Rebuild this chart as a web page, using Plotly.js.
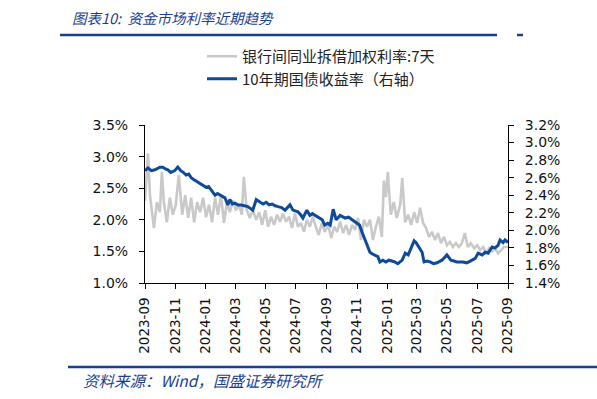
<!DOCTYPE html>
<html>
<head>
<meta charset="utf-8">
<script src="https://cdn.plot.ly/plotly-3.0.1.min.js"></script>
<style>html,body{margin:0;padding:0;background:#fff;}#chart{width:597px;height:399px;}</style>
</head>
<body>
<div id="chart"></div>
<script>
// 银行间同业拆借加权利率:7天 (left axis, %)
const interbankDates = [
"2023-09-01","2023-09-07","2023-09-11","2023-09-19","2023-09-25","2023-10-01","2023-10-05","2023-10-09","2023-10-15","2023-10-21",
"2023-10-27","2023-11-02","2023-11-08","2023-11-15","2023-11-21","2023-11-27","2023-12-03","2023-12-09","2023-12-15","2023-12-21",
"2023-12-27","2024-01-02","2024-01-08","2024-01-14","2024-01-20","2024-01-26","2024-02-01","2024-02-07","2024-02-13","2024-02-19",
"2024-02-25","2024-03-02","2024-03-08","2024-03-14","2024-03-18","2024-03-24","2024-03-30","2024-04-05","2024-04-12","2024-04-18",
"2024-04-24","2024-04-30","2024-05-06","2024-05-12","2024-05-18","2024-05-24","2024-05-30","2024-06-05","2024-06-11","2024-06-17",
"2024-06-23","2024-06-29","2024-07-05","2024-07-11","2024-07-17","2024-07-23","2024-07-29","2024-08-04","2024-08-10","2024-08-16",
"2024-08-22","2024-08-28","2024-09-04","2024-09-10","2024-09-16","2024-09-22","2024-09-28","2024-10-04","2024-10-10","2024-10-16",
"2024-10-22","2024-10-28","2024-11-03","2024-11-09","2024-11-15","2024-11-21","2024-11-27","2024-12-03","2024-12-09","2024-12-15",
"2024-12-21","2024-12-25","2024-12-29","2025-01-02","2025-01-05","2025-01-08","2025-01-14","2025-01-20","2025-01-27","2025-01-31",
"2025-02-06","2025-02-12","2025-02-18","2025-02-24","2025-03-02","2025-03-08","2025-03-14","2025-03-20","2025-03-26","2025-04-01",
"2025-04-07","2025-04-13","2025-04-19","2025-04-25","2025-05-01","2025-05-07","2025-05-13","2025-05-19","2025-05-25","2025-05-31",
"2025-06-06","2025-06-12","2025-06-18","2025-06-25","2025-07-01","2025-07-07","2025-07-13","2025-07-19","2025-07-25","2025-07-31",
"2025-08-06","2025-08-12","2025-08-18","2025-08-24","2025-09-01"];
const interbankRate = [
2.30,3.05,2.39,1.87,2.28,2.12,2.76,2.28,1.96,2.35,
2.08,2.24,2.71,2.08,2.39,2.03,2.35,1.96,2.28,2.12,
2.35,2.04,2.24,1.96,2.35,2.08,2.39,1.95,2.28,2.12,
2.31,2.15,2.24,2.08,2.68,2.15,2.03,2.15,2.00,2.12,
1.92,2.15,1.89,2.05,1.92,2.08,1.97,2.10,1.97,2.05,
1.87,2.10,1.89,1.95,1.81,2.00,1.89,2.05,1.89,1.76,
1.95,1.81,1.92,1.71,1.89,1.81,1.97,1.79,1.92,1.76,
1.92,1.84,2.03,1.68,2.00,1.89,2.00,1.68,1.89,2.05,
1.73,2.62,2.36,2.76,2.40,2.08,2.28,2.03,2.24,2.66,
1.96,2.08,1.92,2.12,1.95,2.19,1.95,1.87,1.73,1.81,
1.68,1.79,1.63,1.73,1.60,1.65,1.57,1.63,1.57,1.63,
1.79,1.57,1.63,1.55,1.60,1.52,1.57,1.47,1.55,1.50,
1.55,1.47,1.52,1.57,1.57];

// 10年期国债收益率 (right axis, %)
const bondDates = [
"2023-09-01","2023-09-07","2023-09-14","2023-09-21","2023-10-01","2023-10-07","2023-10-12","2023-10-17","2023-10-23","2023-10-31",
"2023-11-06","2023-11-12","2023-11-17","2023-11-23","2023-11-28","2023-12-03","2023-12-08","2023-12-13","2023-12-18","2023-12-23",
"2024-01-02","2024-01-07","2024-01-12","2024-01-20","2024-01-25","2024-01-30","2024-02-09","2024-02-15","2024-02-19","2024-02-24",
"2024-02-29","2024-03-06","2024-03-12","2024-03-19","2024-03-26","2024-04-05","2024-04-12","2024-04-20","2024-04-26","2024-05-02",
"2024-05-08","2024-05-14","2024-05-20","2024-05-26","2024-06-02","2024-06-09","2024-06-19","2024-06-25","2024-07-05","2024-07-10",
"2024-07-15","2024-07-23","2024-07-29","2024-08-03","2024-08-08","2024-08-13","2024-08-18","2024-08-23","2024-08-28","2024-09-03",
"2024-09-08","2024-09-14","2024-09-20","2024-09-28","2024-10-08","2024-10-15","2024-10-22","2024-11-01","2024-11-06","2024-11-11",
"2024-11-19","2024-11-27","2024-12-02","2024-12-07","2024-12-13","2024-12-17","2024-12-23","2024-12-29","2025-01-04","2025-01-10",
"2025-01-16","2025-01-22","2025-01-31","2025-02-06","2025-02-12","2025-02-18","2025-02-24","2025-02-28","2025-03-06","2025-03-12",
"2025-03-16","2025-03-22","2025-03-28","2025-04-04","2025-04-11","2025-04-16","2025-04-21","2025-05-01","2025-05-09","2025-05-15",
"2025-05-21","2025-06-02","2025-06-10","2025-06-17","2025-06-27","2025-07-03","2025-07-11","2025-07-17","2025-07-23","2025-07-31",
"2025-08-06","2025-08-12","2025-08-16","2025-08-22","2025-08-26","2025-09-01"];
const bondYield = [
2.68,2.71,2.68,2.69,2.72,2.72,2.70,2.69,2.66,2.68,
2.72,2.68,2.66,2.63,2.64,2.60,2.58,2.56,2.54,2.52,
2.49,2.50,2.46,2.40,2.42,2.40,2.37,2.29,2.35,2.30,
2.31,2.29,2.29,2.28,2.27,2.23,2.35,2.32,2.30,2.32,
2.29,2.30,2.28,2.27,2.26,2.23,2.29,2.23,2.21,2.18,
2.14,2.23,2.17,2.19,2.17,2.15,2.14,2.12,2.06,2.08,
2.06,2.24,2.12,2.17,2.14,2.15,2.12,2.08,2.06,1.98,
1.86,1.75,1.73,1.72,1.70,1.64,1.66,1.64,1.66,1.65,
1.64,1.62,1.66,1.74,1.72,1.80,1.88,1.86,1.81,1.75,
1.64,1.65,1.64,1.62,1.63,1.65,1.66,1.72,1.66,1.65,
1.64,1.64,1.63,1.65,1.68,1.74,1.72,1.75,1.74,1.81,
1.80,1.83,1.89,1.86,1.89,1.86];

const seriesNames = ["银行间同业拆借加权利率:7天", "10年期国债收益率（右轴）"];
const titleText = "图表10:  资金市场利率近期趋势";
const sourceText = "资料来源：Wind，国盛证券研究所";

const W = 597, H = 399;
const L = 145, R = 508, T = 125, B = 283;
const blue = "#0d4a9c";
const darkBlue = "#1b3f8e";
const tickFont = {family: "DejaVu Sans, Verdana, sans-serif", size: 14, color: "#111"};

const traces = [
  {x: interbankDates, y: interbankRate, name: seriesNames[0], type: "scatter", mode: "lines",
   line: {color: "#c9c9c9", width: 2.6}, yaxis: "y"},
  {x: bondDates, y: bondYield, name: seriesNames[1], type: "scatter", mode: "lines",
   line: {color: blue, width: 3}, yaxis: "y2"}
];

const layout = {
  width: W, height: H,
  margin: {l: L, r: W - R, t: T, b: H - B, pad: 0},
  paper_bgcolor: "#fff", plot_bgcolor: "#fff",
  showlegend: true,
  legend: {x: (202 - L) / (R - L), xanchor: "left", y: 1 + (T - 40) / (B - T), yanchor: "top",
           font: {family: "Noto Sans CJK SC, sans-serif", size: 15, color: "#222"},
           bgcolor: "rgba(0,0,0,0)", tracegroupgap: 0, itemwidth: 30},
  xaxis: {type: "date", range: ["2023-09-01", "2025-09-01"], dtick: "M2", tick0: "2023-09-01",
          tickformat: "%Y-%m", tickangle: -90, ticks: "outside", ticklen: 5, tickcolor: "#000",
          ticklabelstandoff: 3,
          showline: true, linecolor: "#000", linewidth: 1, showgrid: false, zeroline: false,
          tickfont: {family: "DejaVu Sans, Verdana, sans-serif", size: 13.5, color: "#111"}},
  yaxis: {range: [1.0, 3.5], dtick: 0.5, tickformat: ".1f", ticksuffix: "%", ticks: "outside",
          ticklen: 5, tickcolor: "#000", ticklabelstandoff: 8, showline: true, linecolor: "#000", linewidth: 1,
          showgrid: false, zeroline: false, tickfont: tickFont},
  yaxis2: {range: [1.4, 3.2], dtick: 0.2, tickformat: ".1f", ticksuffix: "%", overlaying: "y",
           side: "right", ticks: "outside", ticklen: 5, tickcolor: "#000", ticklabelstandoff: 8, showline: true,
           linecolor: "#000", linewidth: 1, showgrid: false, zeroline: false, tickfont: tickFont},
  annotations: [
    {text: "<i>" + titleText + "</i>", xref: "paper", yref: "paper", x: (70 - L) / (R - L),
     y: 1 + (T - 18) / (B - T), xanchor: "left", yanchor: "middle", showarrow: false,
     font: {family: "Noto Sans CJK SC, sans-serif", size: 14.5, color: darkBlue}},
    {text: "<i>" + sourceText + "</i>", xref: "paper", yref: "paper", x: (81 - L) / (R - L),
     y: -(380 - B) / (B - T), xanchor: "left", yanchor: "middle", showarrow: false,
     font: {family: "Noto Sans CJK SC, sans-serif", size: 15.5, color: darkBlue}}
  ],
  shapes: [
    {type: "line", xref: "paper", yref: "paper", x0: (60 - L) / (R - L), x1: (497 - L) / (R - L),
     y0: 1 + (T - 35) / (B - T), y1: 1 + (T - 35) / (B - T), line: {color: darkBlue, width: 2.5}},
    {type: "line", xref: "paper", yref: "paper", x0: (517 - L) / (R - L), x1: (523 - L) / (R - L),
     y0: 1 + (T - 35) / (B - T), y1: 1 + (T - 35) / (B - T), line: {color: darkBlue, width: 2.5}},
    {type: "line", xref: "paper", yref: "paper", x0: (68 - L) / (R - L), x1: (597 - L) / (R - L),
     y0: -(367 - B) / (B - T), y1: -(367 - B) / (B - T), line: {color: darkBlue, width: 2.5}}
  ]
};

Plotly.newPlot("chart", traces, layout, {displayModeBar: false, staticPlot: true});
</script>
</body>
</html>
